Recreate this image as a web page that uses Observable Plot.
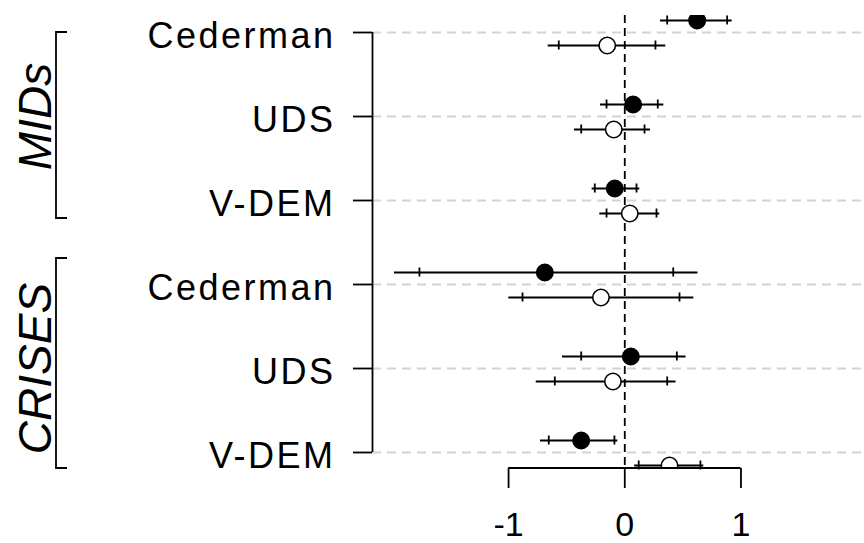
<!DOCTYPE html>
<html>
<head>
<meta charset="utf-8">
<script src="https://cdn.jsdelivr.net/npm/d3@7"></script>
<script src="https://cdn.jsdelivr.net/npm/@observablehq/plot@0.6"></script>
<style>
  body { margin: 0; background: #fff; }
  #chart svg g[aria-label="y-axis tick label"] text { letter-spacing: 2.5px; }
</style>
</head>
<body>
<div id="chart"></div>
<script>
// ---- data ----
const groups     = ["MIDs", "MIDs", "MIDs", "CRISES", "CRISES", "CRISES"];
const categories = ["Cederman", "UDS", "V-DEM", "Cederman", "UDS", "V-DEM"];

// filled (solid) estimates with 95% (line) and 90% (ticks) intervals
const solidEst  = [0.623, 0.072, -0.086, -0.688, 0.052, -0.375];
const solidLo95 = [0.307, -0.209, -0.281, -1.982, -0.536, -0.725];
const solidHi95 = [0.924, 0.336, 0.129, 0.630, 0.527, -0.060];
const solidLo90 = [0.365, -0.157, -0.258, -1.767, -0.375, -0.654];
const solidHi90 = [0.881, 0.284, 0.101, 0.417, 0.448, -0.089];

// hollow estimates
const hollowEst  = [-0.151, -0.095, 0.043, -0.205, -0.102, 0.385];
const hollowLo95 = [-0.659, -0.433, -0.215, -0.998, -0.762, 0.085];
const hollowHi95 = [0.353, 0.221, 0.301, 0.594, 0.441, 0.680];
const hollowLo90 = [-0.568, -0.375, -0.157, -0.880, -0.602, 0.120];
const hollowHi90 = [0.264, 0.170, 0.273, 0.471, 0.365, 0.651];

const xTicks = [-1, 0, 1];
const xDomain = [-2.171, 2.063];

// ---- build tables ----
const idx = categories.map((c, i) => i);
const offSolid = -12 / 84, offHollow = 13 / 84; // vertical offset within a category row
const solid = idx.map(i => ({pos: i + offSolid, est: solidEst[i], lo95: solidLo95[i], hi95: solidHi95[i], lo90: solidLo90[i], hi90: solidHi90[i]}));
const hollow = idx.map(i => ({pos: i + offHollow, est: hollowEst[i], lo95: hollowLo95[i], hi95: hollowHi95[i], lo90: hollowLo90[i], hi90: hollowHi90[i]}));
const groupNames = Array.from(new Set(groups));
const groupInfo = groupNames.map(name => {
  const ids = idx.filter(i => groups[i] === name);
  return {name, first: ids[0], last: ids[ids.length - 1], mid: (ids[0] + ids[ids.length - 1]) / 2};
});

const lw = 1.8;
const errorBars = (data, fill) => [
  Plot.ruleY(data, {y: "pos", x1: "lo95", x2: "hi95", stroke: "black", strokeWidth: lw}),
  Plot.ruleX(data, {x: "lo90", y1: "pos", y2: "pos", insetTop: -4.5, insetBottom: -4.5, stroke: "black", strokeWidth: lw}),
  Plot.ruleX(data, {x: "hi90", y1: "pos", y2: "pos", insetTop: -4.5, insetBottom: -4.5, stroke: "black", strokeWidth: lw}),
  Plot.dot(data, {x: "est", y: "pos", r: 8.2, fill, stroke: "black", strokeWidth: 1.6, clip: true})
];

// brackets around the groups and the x-axis domain line, placed through the scales
const bracketPad = [[0, 18], [-26, 16]];
function decorations(index, scales, values, dimensions) {
  const {marginLeft, height, marginBottom} = dimensions;
  const g = d3.create("svg:g").attr("fill", "none").attr("stroke", "black").attr("stroke-width", lw);
  const yb = height - marginBottom;
  g.append("line")
    .attr("x1", scales.x(d3.min(xTicks))).attr("x2", scales.x(d3.max(xTicks)))
    .attr("y1", yb).attr("y2", yb);
  const bx = marginLeft - 316, sx = marginLeft - 305;
  groupInfo.forEach((gr, k) => {
    const y1 = scales.y(gr.first) + bracketPad[k][0];
    const y2 = scales.y(gr.last) + bracketPad[k][1];
    g.append("path").attr("d", `M${sx},${y1}H${bx}V${y2}H${sx}`);
  });
  return g.node();
}

const chart = Plot.plot({
  width: 864,
  height: 543,
  marginLeft: 372,
  marginRight: 0,
  marginTop: 15,
  marginBottom: 75,
  style: {fontFamily: "'Liberation Sans', Arial, sans-serif", background: "white", color: "black"},
  x: {domain: xDomain},
  y: {domain: [0, categories.length - 1], range: [32, 452]},
  marks: [
    Plot.ruleY(idx, {stroke: "#d3d3d3", strokeWidth: lw, strokeDasharray: "9,6"}),
    Plot.ruleX([0], {stroke: "black", strokeWidth: lw, strokeDasharray: "8,5"}),
    ...errorBars(solid, "black"),
    ...errorBars(hollow, "white"),
    Plot.ruleX([xDomain[0]], {y1: 0, y2: categories.length - 1, stroke: "black", strokeWidth: lw}),
    Plot.axisY({ticks: idx, tickSize: 19, fill: "none", strokeWidth: lw, label: null}),
    Plot.axisY({ticks: idx, tickSize: 0, tickPadding: 37, tickFormat: i => categories[i], fontSize: 36, dy: 4, label: null}),
    Plot.axisX({ticks: xTicks, tickSize: 20, tickPadding: 23, tickFormat: d => String(d), fontSize: 34, strokeWidth: lw, label: null}),
    Plot.text(groupInfo, {frameAnchor: "left", y: "mid", text: "name", rotate: -90, dx: -336, textAnchor: "middle", lineAnchor: "middle", fontSize: 46, fontStyle: "italic"}),
    decorations
  ]
});
document.getElementById("chart").appendChild(chart);
</script>
</body>
</html>
